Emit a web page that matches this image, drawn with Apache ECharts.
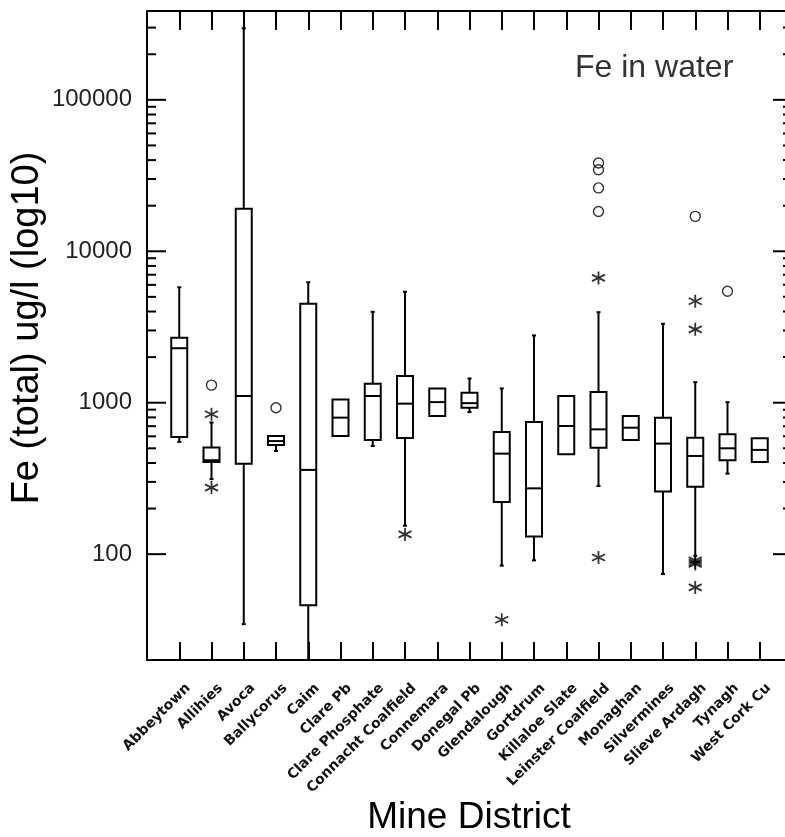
<!DOCTYPE html>
<html><head><meta charset="utf-8">
<script src="https://cdn.jsdelivr.net/npm/echarts@6/dist/echarts.min.js"></script>
<style>html,body{margin:0;padding:0;background:#fff}#c{width:785px;height:837px}</style>
</head><body><div id="c"></div>
<script>
const categories = ['Abbeytown','Allihies','Avoca','Ballycorus','Caim','Clare Pb','Clare Phosphate','Connacht Coalfield','Connemara','Donegal Pb','Glendalough','Gortdrum','Killaloe Slate','Leinster Coalfield','Monaghan','Silvermines','Slieve Ardagh','Tynagh','West Cork Cu'];
const whiskerLow  = [551, 313, 34.5, 480, 20, null, 518, 154, null, 867, 84, 91, null, 282, null, 74, 97.5, 340, null];
const q1          = [594, 406, 396, 526, 46, 602, 567, 585, 817, 927, 221, 131, 456, 505, 567, 259, 279, 417, 406];
const median      = [2290, 417, 1107, 558, 360, 797, 1107, 986, 1009, 993, 461, 272, 702, 667, 684, 537, 445, 500, 488];
const q3          = [2690, 506, 19100, 603, 4500, 1051, 1334, 1500, 1242, 1164, 640, 745, 1107, 1175, 817, 797, 588, 618, 582];
const whiskerHigh = [5780, 740, 297000, null, 6240, null, 3983, 5400, null, 1446, 1242, 2781, null, 3960, null, 3320, 1367, 1009, null];
// outliers: [category position (1-based), value]
const circleOutliers = [[2,1306],[4,927],[14,38300],[14,34500],[14,26200],[14,18300],[17,17000],[18,5450]];
const starOutliers = [[2,839],[2,275],[8,135],[11,36.9],[14,6670],[14,95],[17,4680],[17,3050],[17,91],[17,88],[17,86],[17,60.3]];
const yTickLabels = {100:'100', 1000:'1000', 10000:'10000', 100000:'100000'};
const majorTickValues = [100, 1000, 10000, 100000];
const minorTickValues = [200,300,400,500,600,700,800,900,2000,3000,4000,5000,6000,7000,8000,9000,20000,30000,40000,50000,60000,70000,80000,90000,200000,300000];

const chart = echarts.init(document.getElementById('c'));
const boxData = categories.map((c, i) => [i + 1,
  whiskerLow[i] == null ? q1[i] : whiskerLow[i], q1[i], median[i], q3[i],
  whiskerHigh[i] == null ? q3[i] : whiskerHigh[i]]);

const black = '#000';
const font = '"Liberation Sans", Arial, sans-serif';

function boxItem(params, api) {
  const x = api.value(0);
  const pLo = api.coord([x, api.value(1)]);
  const pQ1 = api.coord([x, api.value(2)]);
  const pMd = api.coord([x, api.value(3)]);
  const pQ3 = api.coord([x, api.value(4)]);
  const pHi = api.coord([x, api.value(5)]);
  const h = 8, c = 2;
  const st = {stroke: black, lineWidth: 2, fill: 'none'};
  const ch = [
    {type: 'rect', shape: {x: pQ3[0] - h, y: pQ3[1], width: 2 * h, height: pQ1[1] - pQ3[1]}, style: st},
    {type: 'line', shape: {x1: pMd[0] - h, y1: pMd[1], x2: pMd[0] + h, y2: pMd[1]}, style: st}
  ];
  if (pHi[1] < pQ3[1] - 0.5) {
    ch.push({type: 'line', shape: {x1: pHi[0], y1: pHi[1], x2: pQ3[0], y2: pQ3[1]}, style: st});
    ch.push({type: 'line', shape: {x1: pHi[0] - c, y1: pHi[1], x2: pHi[0] + c, y2: pHi[1]}, style: st});
  }
  if (pLo[1] > pQ1[1] + 0.5) {
    ch.push({type: 'line', shape: {x1: pLo[0], y1: pLo[1], x2: pQ1[0], y2: pQ1[1]}, style: st});
    ch.push({type: 'line', shape: {x1: pLo[0] - c, y1: pLo[1], x2: pLo[0] + c, y2: pLo[1]}, style: st});
  }
  return {type: 'group', children: ch};
}

function tickItem(params, api) {
  const v = api.value(1);
  const len = api.value(2);
  const l = api.coord([0, v]);
  const r = api.coord([20, v]);
  const st = {stroke: black, lineWidth: 2};
  return {type: 'group', children: [
    {type: 'line', shape: {x1: l[0], y1: l[1], x2: l[0] + len, y2: l[1]}, style: st},
    {type: 'line', shape: {x1: r[0], y1: r[1], x2: r[0] - len, y2: r[1]}, style: st}
  ]};
}

const xBase = {type: 'value', min: 0, max: 20, interval: 1, splitLine: {show: false}};
const yLog = {type: 'log', logBase: 10, min: 20, max: 386000, splitLine: {show: false}, minorTick: {show: false}, axisTick: {show: false}};

chart.setOption({
  animation: false,
  backgroundColor: '#fff',
  grid: [
    {left: 147, top: 11, width: 645, height: 649, outerBoundsMode: 'none', containLabel: false},
    {left: 156, top: 11, width: 645, height: 649, outerBoundsMode: 'none', containLabel: false}
  ],
  xAxis: [
    Object.assign({}, xBase, {gridIndex: 0, position: 'bottom',
      axisLine: {lineStyle: {color: black, width: 2}},
      axisTick: {inside: true, length: 18, lineStyle: {color: black, width: 2}},
      axisLabel: {show: false}}),
    Object.assign({}, xBase, {gridIndex: 0, position: 'top',
      axisLine: {lineStyle: {color: black, width: 2}},
      axisTick: {inside: true, length: 19, lineStyle: {color: black, width: 2}},
      axisLabel: {show: false}}),
    Object.assign({}, xBase, {gridIndex: 1, position: 'bottom',
      axisLine: {show: false}, axisTick: {show: false},
      axisLabel: {rotate: 45, margin: 26, fontSize: 14, fontWeight: 'bold', fontFamily: 'DejaVu Sans', color: '#111',
        formatter: v => categories[v - 1] || ''}})
  ],
  yAxis: [
    Object.assign({}, yLog, {gridIndex: 0, position: 'left',
      axisLine: {lineStyle: {color: black, width: 2}},
      axisLabel: {margin: 15, fontSize: 24, fontFamily: font, color: '#222', showMinLabel: false, showMaxLabel: false,
        formatter: v => yTickLabels[Math.round(v)] || ''}}),
    Object.assign({}, yLog, {gridIndex: 0, position: 'right',
      axisLine: {lineStyle: {color: black, width: 2}},
      axisLabel: {show: false}}),
    {type: 'value', gridIndex: 1, show: false}
  ],
  series: [
    {type: 'custom', xAxisIndex: 0, yAxisIndex: 0, silent: true, clip: false,
      data: majorTickValues.map(v => [0, v, 19]).concat(minorTickValues.map(v => [0, v, 9])), renderItem: tickItem},
    {type: 'custom', xAxisIndex: 0, yAxisIndex: 0, silent: true,
      encode: {x: 0, y: [1, 2, 3, 4, 5]}, data: boxData, renderItem: boxItem},
    {type: 'scatter', xAxisIndex: 0, yAxisIndex: 0, silent: true, symbol: 'circle', symbolSize: 10,
      itemStyle: {color: 'transparent', borderColor: black, borderWidth: 1.4}, data: circleOutliers},
    {type: 'scatter', xAxisIndex: 0, yAxisIndex: 0, silent: true,
      symbol: 'path://M6,0L6,12M0.8,3L11.2,9M0.8,9L11.2,3', symbolSize: 13,
      itemStyle: {color: 'transparent', borderColor: black, borderWidth: 1.8}, data: starOutliers}
  ],
  graphic: [
    {type: 'text', x: 28, y: 328, rotation: Math.PI / 2,
      style: {text: 'Fe (total) ug/l (log10)', font: '38px ' + font, fill: black, align: 'center', verticalAlign: 'middle'}},
    {type: 'text', x: 469, y: 818,
      style: {text: 'Mine District', font: '37px ' + font, fill: black, align: 'center', verticalAlign: 'middle'}},
    {type: 'text', x: 575, y: 68,
      style: {text: 'Fe in water', font: '32px ' + font, fill: '#333', align: 'left', verticalAlign: 'middle'}}
  ]
});
</script></body></html>
